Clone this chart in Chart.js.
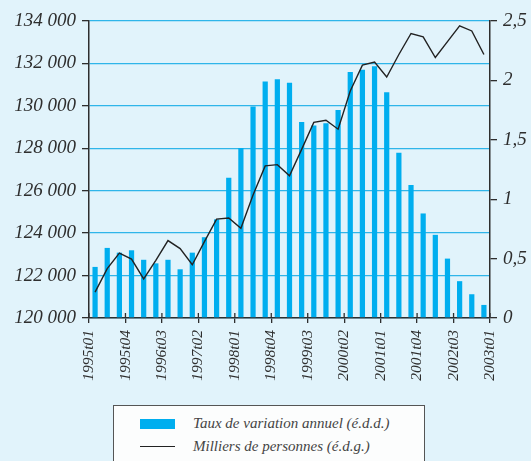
<!DOCTYPE html>
<html>
<head>
<meta charset="utf-8">
<script src="https://cdn.jsdelivr.net/npm/chart.js@4/dist/chart.umd.min.js"></script>
<style>
  html,body{margin:0;padding:0;background:#e1f3fb;}
  #wrap{position:relative;width:531px;height:461px;overflow:hidden;background:#e1f3fb;}
  #chart{position:absolute;left:0;top:0;}
  .legend{position:absolute;left:113px;top:405px;width:312px;height:70px;background:#fcfdfd;border:1px solid #555;box-sizing:border-box;
    font-family:'Liberation Serif',serif;font-style:italic;font-size:15px;color:#444;}
  .legend .row{position:absolute;left:26px;display:flex;align-items:center;}
  .legend .sw{display:inline-block;width:35px;margin-right:18px;}
</style>
</head>
<body>
<div id="wrap">
  <canvas id="chart" width="531" height="400"></canvas>
  <div class="legend">
    <div class="row" style="top:9px"><span class="sw" style="height:10px;background:#00aeef"></span>Taux de variation annuel (é.d.d.)</div>
    <div class="row" style="top:32px"><span class="sw" style="height:0;border-top:1.5px solid #222"></span>Milliers de personnes (é.d.g.)</div>
  </div>
</div>
<script>
// trimestres 1995t01 .. 2003t01
const trimestres = [
  "1995t01","1995t02","1995t03","1995t04",
  "1996t01","1996t02","1996t03","1996t04",
  "1997t01","1997t02","1997t03","1997t04",
  "1998t01","1998t02","1998t03","1998t04",
  "1999t01","1999t02","1999t03","1999t04",
  "2000t01","2000t02","2000t03","2000t04",
  "2001t01","2001t02","2001t03","2001t04",
  "2002t01","2002t02","2002t03","2002t04",
  "2003t01"
];

// taux de variation annuel, en % (échelle de droite)
const tauxVariation = [
  0.43, 0.59, 0.55, 0.57, 0.49, 0.46, 0.49, 0.41, 0.55, 0.68, 0.83,
  1.18, 1.43, 1.78, 1.99, 2.01, 1.98, 1.65, 1.62, 1.64, 1.75, 2.07,
  2.09, 2.12, 1.90, 1.39, 1.12, 0.88, 0.70, 0.50, 0.31, 0.20, 0.11
];

// milliers de personnes (échelle de gauche)
const milliersPersonnes = [
  121220, 122330, 123060, 122780, 121840, 122720, 123650, 123270, 122510, 123600, 124660,
  124710, 124230, 125800, 127170, 127230, 126700, 127950, 129220, 129320, 128900, 130700,
  131920, 132060, 131360, 132420, 133410, 133250, 132280, 133030, 133770, 133530, 132420
];

const yGaucheTicks = [120000, 122000, 124000, 126000, 128000, 130000, 132000, 134000];
const yDroiteTicks = [0, 0.5, 1, 1.5, 2, 2.5];
const pasEtiquettes = 3; // une graduation tous les 3 trimestres

const INK = "#2e2e2e";
const SERIF = "'Liberation Serif', serif";
const tickFont = {family:SERIF, style:"italic", size:19};

function fmtMilliers(v){ return String(v).replace(/\B(?=(\d{3})+(?!\d))/g, " "); }

// petites graduations vers l'intérieur sur l'axe du bas
const innerTicks = {
  id:"innerTicks",
  afterDraw(chart){
    const s = chart.scales.xt, ctx = chart.ctx;
    ctx.save();
    ctx.strokeStyle = INK; ctx.lineWidth = 1.3;
    s.ticks.forEach(t=>{
      const x = s.getPixelForValue(t.value);
      ctx.beginPath(); ctx.moveTo(x, s.top); ctx.lineTo(x, s.top - 5); ctx.stroke();
    });
    ctx.restore();
  }
};

new Chart(document.getElementById("chart"), {
  type:"bar",
  data:{
    labels: trimestres,
    datasets:[
      { type:"line", label:"Milliers de personnes (é.d.g.)", data:milliersPersonnes, yAxisID:"y", xAxisID:"x",
        borderColor:"#222", borderWidth:1.4, pointRadius:0, tension:0, order:0 },
      { type:"bar", label:"Taux de variation annuel (é.d.d.)", data:tauxVariation, yAxisID:"y1", xAxisID:"x",
        backgroundColor:"#00aeef", barPercentage:0.43, categoryPercentage:1, order:1 }
    ]
  },
  options:{
    responsive:false, animation:false, devicePixelRatio:1,
    layout:{ padding:{ top:21, left:0, right:0, bottom:0 } },
    plugins:{ legend:{display:false}, tooltip:{enabled:false} },
    scales:{
      x:{ type:"category", offset:true, display:false },
      xt:{
        type:"linear", position:"bottom", offset:false, min:-0.5, max:trimestres.length - 0.5,
        afterBuildTicks(s){
          const t = [];
          for(let k=0; k<=trimestres.length; k+=pasEtiquettes) t.push({value:k - 0.5});
          s.ticks = t;
        },
        afterFit(s){ s.height = 82; },
        ticks:{
          autoSkip:false, minRotation:90, maxRotation:90, padding:7, color:INK,
          font:{family:SERIF, style:"italic", size:15.5},
          callback(v){ const i = Math.min(Math.round(v + 0.5), trimestres.length - 1); return trimestres[i]; }
        },
        grid:{ offset:false, drawOnChartArea:false, tickLength:5, tickColor:INK, lineWidth:1.3 },
        border:{ color:INK, width:1.5 }
      },
      y:{
        position:"left", min:yGaucheTicks[0], max:yGaucheTicks[yGaucheTicks.length-1],
        afterBuildTicks(s){ s.ticks = yGaucheTicks.map(v=>({value:v})); },
        afterFit(s){ s.width = 89; },
        ticks:{ color:INK, font:tickFont, padding:6, callback:v=>fmtMilliers(v) },
        grid:{ color:"#2fb5e9", lineWidth:1.3, tickLength:7, tickColor:INK },
        border:{ color:INK, width:1.5 }
      },
      y1:{
        position:"right", min:yDroiteTicks[0], max:yDroiteTicks[yDroiteTicks.length-1],
        afterBuildTicks(s){ s.ticks = yDroiteTicks.map(v=>({value:v})); },
        afterFit(s){ s.width = 41; },
        ticks:{ color:INK, font:tickFont, padding:6, callback:v=>String(v).replace(".", ",") },
        grid:{ drawOnChartArea:false, tickLength:7, tickColor:INK, lineWidth:1.3 },
        border:{ color:INK, width:1.5 }
      }
    }
  },
  plugins:[innerTicks]
});
</script>
</body>
</html>
